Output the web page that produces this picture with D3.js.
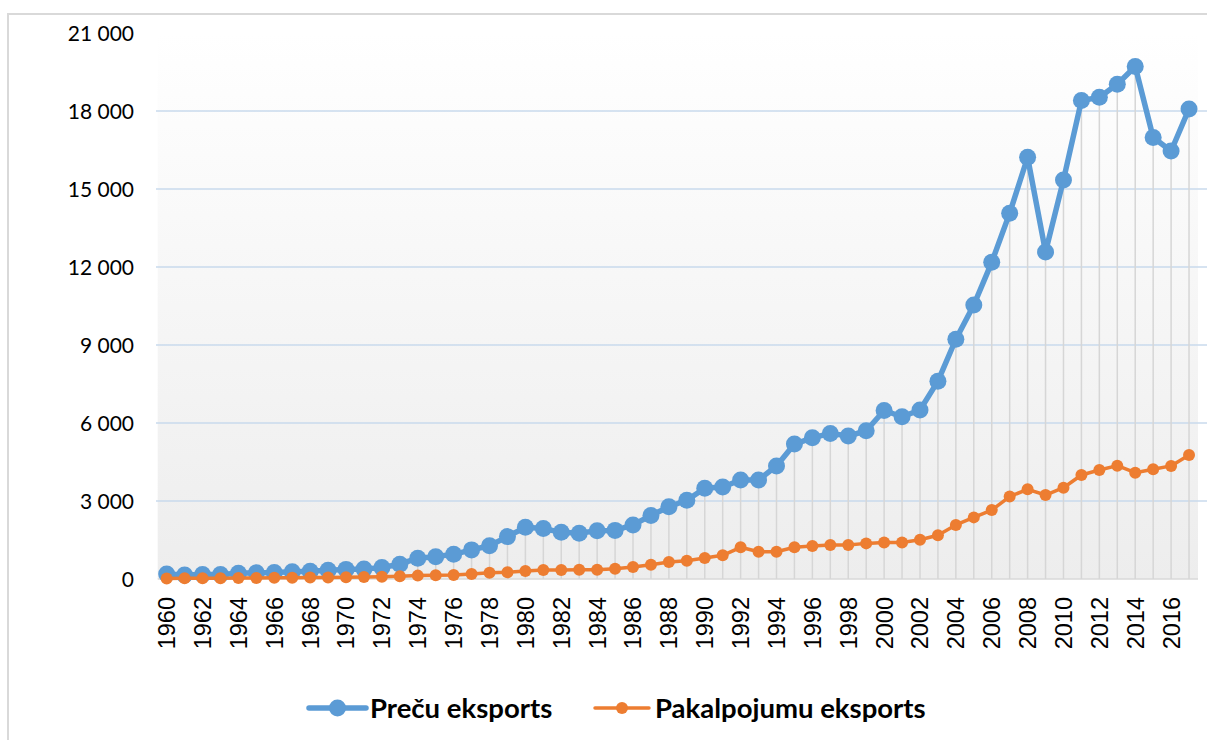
<!DOCTYPE html>
<html>
<head>
<meta charset="utf-8" />
<title>Preču un pakalpojumu eksports</title>
<script src="https://cdnjs.cloudflare.com/ajax/libs/d3/7.8.5/d3.min.js"></script>
<style>
	body {
		margin: 0;
		background: #ffffff;
	}
	#chart text.ytick {
		font-family: Lato, "Open Sans", sans-serif;
		font-size: 21px;
		fill: #000;
	}
	#chart text.xtick {
		font-family: "Liberation Sans", Arial, sans-serif;
		font-size: 23.5px;
		fill: #000;
	}
	#chart text.legend {
		font-family: Lato, "Open Sans", sans-serif;
		font-weight: bold;
		font-size: 27.5px;
		fill: #000;
	}
</style>
</head>
<body>
<svg id="chart" width="1207" height="740"></svg>
<script>
// years on the category axis
let years = d3.range(1960, 2018);

// Preču eksports (goods)
let goods = [190, 150, 170, 170, 220, 240, 250, 280, 300, 340,
	370, 380, 440, 570, 800, 860, 950, 1120, 1280, 1630,
	1990, 1940, 1795, 1760, 1860, 1870, 2080, 2440, 2780, 3030,
	3490, 3540, 3810, 3810, 4350, 5190, 5430, 5600, 5500, 5700,
	6480, 6240, 6500, 7610, 9220, 10540, 12180, 14070, 16220, 12580,
	15350, 18400, 18530, 19030, 19710, 16980, 16460, 18080];

// Pakalpojumu eksports (services)
let services = [20, 25, 30, 30, 35, 40, 45, 50, 55, 60,
	70, 75, 85, 110, 130, 140, 150, 190, 240, 260,
	310, 345, 350, 355, 360, 390, 460, 550, 650, 700,
	810, 910, 1220, 1050, 1050, 1220, 1270, 1310, 1310, 1370,
	1400, 1405, 1510, 1680, 2080, 2370, 2650, 3170, 3450, 3230,
	3510, 4000, 4190, 4360, 4090, 4220, 4350, 4770];

let yTicks = [0, 3000, 6000, 9000, 12000, 15000, 18000, 21000];
let yTickLabels = ['0', '3 000', '6 000', '9 000', '12 000', '15 000', '18 000', '21 000'];
let xTickYears = years.filter(function(y) { return y % 2 == 0; });

let seriesNames = ['Preču eksports', 'Pakalpojumu eksports'];
let seriesColors = ['#5b9bd5', '#ed7d31'];

let svg = d3.select('#chart');

// plot area
let plotLeft = 157.7, plotRight = 1198, plotTop = 33, plotBottom = 579;

let x = d3.scaleBand().domain(years).range([plotLeft, plotRight]);
let y = d3.scaleLinear().domain([0, 21000]).range([plotBottom, plotTop]);
let cx = function(yr) { return x(yr) + x.bandwidth() / 2; };

// outer frame
svg.append('rect')
	.attr('x', 8).attr('y', 14)
	.attr('width', 1230).attr('height', 760)
	.attr('fill', 'none')
	.attr('stroke', '#d9d9d9')
	.attr('stroke-width', 2);

// background gradient
let defs = svg.append('defs');
let grad = defs.append('linearGradient')
	.attr('id', 'bg').attr('x1', 0).attr('y1', 0).attr('x2', 0).attr('y2', 1);
grad.append('stop').attr('offset', '0%').attr('stop-color', '#ffffff');
grad.append('stop').attr('offset', '100%').attr('stop-color', '#ededed');

svg.append('rect')
	.attr('x', plotLeft).attr('y', plotTop)
	.attr('width', plotRight - plotLeft).attr('height', plotBottom - plotTop)
	.attr('fill', 'url(#bg)');

// horizontal grid lines
svg.append('g')
	.selectAll('line')
	.data(yTicks.filter(function(t) { return t > 0 && t < 21000; }))
	.enter()
	.append('line')
		.attr('x1', 156).attr('x2', 1207)
		.attr('y1', function(d) { return y(d); })
		.attr('y2', function(d) { return y(d); })
		.attr('stroke', '#c9daed')
		.attr('stroke-width', 1.5);

// baseline
svg.append('line')
	.attr('x1', plotLeft).attr('x2', plotRight)
	.attr('y1', y(0)).attr('y2', y(0))
	.attr('stroke', '#d9d9d9')
	.attr('stroke-width', 1.5);

// drop lines from goods points
svg.append('g')
	.selectAll('line')
	.data(years)
	.enter()
	.append('line')
		.attr('x1', function(d) { return cx(d); })
		.attr('x2', function(d) { return cx(d); })
		.attr('y1', function(d, i) { return y(goods[i]); })
		.attr('y2', y(0))
		.attr('stroke', '#d6d6d6')
		.attr('stroke-width', 1.5);

// y axis labels
svg.append('g')
	.selectAll('text')
	.data(yTicks)
	.enter()
	.append('text')
		.attr('class', 'ytick')
		.attr('x', 134)
		.attr('y', function(d) { return y(d); })
		.attr('dy', '0.36em')
		.attr('text-anchor', 'end')
		.text(function(d, i) { return yTickLabels[i]; });

// x axis labels (rotated)
svg.append('g')
	.selectAll('text')
	.data(xTickYears)
	.enter()
	.append('text')
		.attr('class', 'xtick')
		.attr('transform', function(d) { return 'translate(' + cx(d) + ',597) rotate(-90)'; })
		.attr('dy', '0.36em')
		.attr('text-anchor', 'end')
		.text(function(d) { return d; });

// series lines and markers
let line = d3.line()
	.x(function(d, i) { return cx(years[i]); })
	.y(function(d) { return y(d); });

function drawSeries(values, color, width, r) {
	let g = svg.append('g');
	g.append('path')
		.datum(values)
		.attr('d', line)
		.attr('fill', 'none')
		.attr('stroke', color)
		.attr('stroke-width', width)
		.attr('stroke-linejoin', 'round');
	g.selectAll('circle')
		.data(values)
		.enter()
		.append('circle')
			.attr('cx', function(d, i) { return cx(years[i]); })
			.attr('cy', function(d) { return y(d); })
			.attr('r', r)
			.attr('fill', color);
}

drawSeries(goods, seriesColors[0], 5.5, 8.5);
drawSeries(services, seriesColors[1], 3.5, 6);

// legend
let legendItems = [
	{ x1: 309, x2: 366, tx: 370, w: 5.5, r: 8.5 },
	{ x1: 595, x2: 649, tx: 655, w: 3.5, r: 6 }
];
let legend = svg.append('g');
legendItems.forEach(function(item, i) {
	legend.append('line')
		.attr('x1', item.x1).attr('x2', item.x2)
		.attr('y1', 708).attr('y2', 708)
		.attr('stroke', seriesColors[i])
		.attr('stroke-width', item.w)
		.attr('stroke-linecap', 'round');
	legend.append('circle')
		.attr('cx', (item.x1 + item.x2) / 2).attr('cy', 708)
		.attr('r', item.r)
		.attr('fill', seriesColors[i]);
	legend.append('text')
		.attr('class', 'legend')
		.attr('x', item.tx).attr('y', 708)
		.attr('dy', '0.36em')
		.text(seriesNames[i]);
});
</script>
</body>
</html>
